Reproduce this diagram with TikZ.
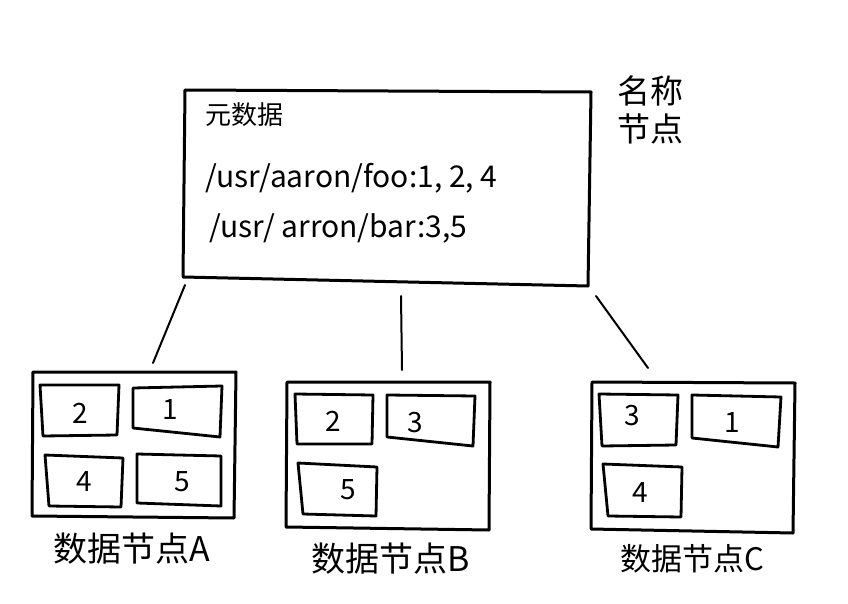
\documentclass[tikz,border=0pt]{standalone}
\usepackage{fontspec}
\setmainfont{Noto Sans CJK SC}
\begin{document}
\begin{tikzpicture}[x=1pt,y=-1pt,
  outerbox/.style={line width=3pt, line join=round},
  innerbox/.style={line width=2.8pt, line join=round},
  link/.style={line width=2pt, line cap=round},
  num/.style={font=\fontsize{28}{30}\selectfont},
  lbl/.style={font=\fontsize{34}{38}\selectfont},
  path/.style={font=\fontsize{30}{32}\selectfont, anchor=west, inner sep=0pt}]
\useasboundingbox (0,0) rectangle (848,604);
% name node
\draw[outerbox] (185,90) -- (591,92) -- (588,286) -- (183,277) -- cycle;
\node[font=\fontsize{26}{28}\selectfont, anchor=west, inner sep=0pt] (meta) at (205,115) {元数据};
\node[path] (p1) at (205,178) {/usr/aaron/foo:1, 2, 4};
\node[path] (p2) at (209,228) {/usr/ arron/bar:3,5};
\node[font=\fontsize{33}{38}\selectfont, align=center, inner sep=0pt] (nn) at (650,110) {名称\\节点};
% connectors
\coordinate (mA) at (185,285); \coordinate (tA) at (153,363);
\coordinate (mB) at (401,296); \coordinate (tB) at (402,370);
\coordinate (mC) at (596,296); \coordinate (tC) at (648,368);
\draw[link] (mA) -- (tA);
\draw[link] (mB) -- (tB);
\draw[link] (mC) -- (tC);
% node A
\draw[outerbox] (33,372) -- (236,372) -- (234,518) -- (32,516) -- cycle;
\draw[innerbox] (40,385) -- (119,385) -- (117,435) -- (43,436) -- cycle;
\node[num] (a2) at (80,413) {2};
\draw[innerbox] (133,388) -- (222,386) -- (220,437) -- (133,428) -- cycle;
\node[num] (a1) at (170,410) {1};
\draw[innerbox] (45,455) -- (123,458) -- (121,507) -- (49,506) -- cycle;
\node[num] (a4) at (84,482) {4};
\draw[innerbox] (137,454) -- (221,456) -- (221,506) -- (137,503) -- cycle;
\node[num] (a5) at (182,482) {5};
\node[lbl] (la) at (132,549) {数据节点A};
% node B
\draw[outerbox] (287,382) -- (490,382) -- (489,530) -- (286,527) -- cycle;
\draw[innerbox] (295,394) -- (373,395) -- (372,444) -- (297,444) -- cycle;
\node[num] (b2) at (333,421) {2};
\draw[innerbox] (387,395) -- (475,396) -- (473,446) -- (387,437) -- cycle;
\node[num] (b3) at (415,423) {3};
\draw[innerbox] (298,463) -- (377,467) -- (376,516) -- (303,514) -- cycle;
\node[num] (b5) at (348,490) {5};
\node[lbl] (lb) at (391,559) {数据节点B};
% node C
\draw[outerbox] (592,382) -- (795,383) -- (793,533) -- (591,529) -- cycle;
\draw[innerbox] (599,394) -- (678,395) -- (676,445) -- (602,446) -- cycle;
\node[num] (c3) at (632,416) {3};
\draw[innerbox] (692,395) -- (781,397) -- (778,447) -- (692,438) -- cycle;
\node[num] (c1) at (732,423) {1};
\draw[innerbox] (603,464) -- (682,467) -- (681,517) -- (608,516) -- cycle;
\node[num] (c4) at (640,493) {4};
\node[font=\fontsize{31}{34}\selectfont] (lc) at (692,559) {数据节点C};
\end{tikzpicture}
\end{document}
